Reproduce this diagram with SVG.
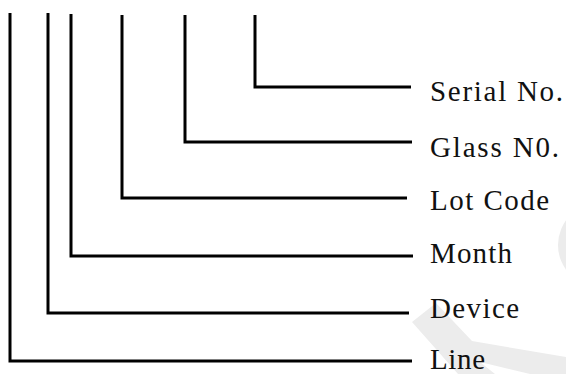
<svg xmlns="http://www.w3.org/2000/svg" width="566" height="374" viewBox="0 0 566 374">
  <style>
    .wm { fill: #ececec; stroke: none; }
    .conn { fill: none; stroke: #000; stroke-width: 3; stroke-linejoin: miter; stroke-linecap: butt; }
    .lbl { font-family: "Liberation Serif", "Noto Sans CJK KR", serif; font-size: 29px; fill: #111; }
  </style>
  <rect width="566" height="374" fill="#fff"/>
  <g id="watermark">
    <circle class="wm" cx="600" cy="245" r="42"/>
    <polygon class="wm" points="412,322 436,303 472,341 566,357 566,374 530,374 480,362 495,374 458,374"/>
  </g>
  <g id="connectors">
    <path class="conn" d="M255,15 V87 H411"/>
    <path class="conn" d="M185,15 V142 H412"/>
    <path class="conn" d="M122,15 V198 H407"/>
    <path class="conn" d="M71,14 V256 H413"/>
    <path class="conn" d="M48,13 V313 H409"/>
    <path class="conn" d="M10,13 V361 H412"/>
  </g>
  <g id="serial"><text class="lbl" x="430" y="101" textLength="133">Serial No.</text></g>
  <g id="glass"><text class="lbl" x="430" y="157" textLength="129">Glass N0.</text></g>
  <g id="lot"><text class="lbl" x="430" y="210" textLength="119">Lot Code</text></g>
  <g id="month"><text class="lbl" x="430" y="263" textLength="82">Month</text></g>
  <g id="device"><text class="lbl" x="430" y="318" textLength="89">Device</text></g>
  <g id="line"><text class="lbl" x="430" y="369" textLength="55">Line</text></g>
</svg>
